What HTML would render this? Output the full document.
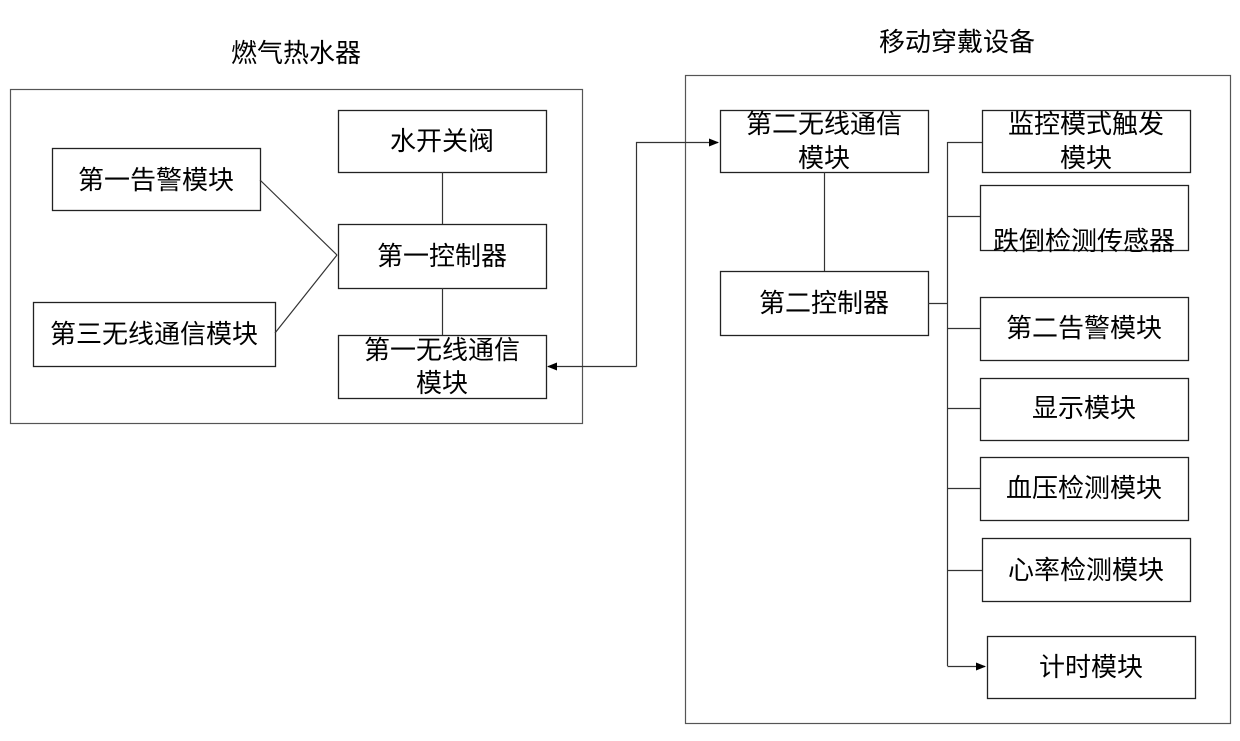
<!DOCTYPE html>
<html><head><meta charset="utf-8"><style>
html,body{margin:0;padding:0;background:#fff}
svg text{font-family:"Liberation Sans","Noto Sans CJK SC","WenQuanYi Zen Hei",sans-serif;font-size:26px;fill:#000;text-anchor:middle;dominant-baseline:central}
</style></head><body>
<svg width="1240" height="736" viewBox="0 0 1240 736" xmlns="http://www.w3.org/2000/svg">
<defs><marker id="a" markerWidth="10" markerHeight="8" refX="9" refY="4" orient="auto" markerUnits="userSpaceOnUse"><path d="M0,0 L10,4 L0,8 Z" fill="#000"/></marker></defs>
<g fill="none" stroke="#555" stroke-width="1.2">
<rect x="10.5" y="89.5" width="572" height="334"/>
<rect x="685.5" y="75.5" width="545" height="648"/>
</g>
<g fill="#fff" stroke="#222" stroke-width="1.3">
<rect x="338.5" y="110.5" width="208" height="62"/>
<rect x="52.5" y="148.5" width="208" height="62"/>
<rect x="338.5" y="224.5" width="208" height="64"/>
<rect x="33.5" y="302.5" width="242" height="64"/>
<rect x="338.5" y="335.5" width="208" height="63"/>
<rect x="720.5" y="110.5" width="208" height="62"/>
<rect x="720.5" y="271.5" width="208" height="64"/>
<rect x="982.5" y="110.5" width="208" height="62"/>
<rect x="980.5" y="185.5" width="208" height="65"/>
<rect x="980.5" y="297.5" width="208" height="63"/>
<rect x="980.5" y="378.5" width="208" height="62"/>
<rect x="980.5" y="457.5" width="208" height="63"/>
<rect x="982.5" y="538.5" width="208" height="63"/>
<rect x="987.5" y="636.5" width="208" height="62"/>
</g>
<g fill="none" stroke="#333" stroke-width="1.2">
<line x1="260" y1="180" x2="337" y2="255"/>
<line x1="275" y1="333" x2="337" y2="255"/>
<line x1="442.5" y1="172" x2="442.5" y2="224"/>
<line x1="442.5" y1="288" x2="442.5" y2="335"/>
<polyline points="636.5,366.5 636.5,142.5 718,142.5" marker-end="url(#a)"/>
<line x1="636.5" y1="366.5" x2="548" y2="366.5" marker-end="url(#a)"/>
<line x1="824.5" y1="172" x2="824.5" y2="271"/>
<line x1="947.5" y1="142" x2="947.5" y2="666"/>
<line x1="928" y1="303.5" x2="947.5" y2="303.5"/>
<line x1="947.5" y1="142.5" x2="982" y2="142.5"/>
<line x1="947.5" y1="216.5" x2="980" y2="216.5"/>
<line x1="947.5" y1="328.5" x2="980" y2="328.5"/>
<line x1="947.5" y1="408.5" x2="980" y2="408.5"/>
<line x1="947.5" y1="488.5" x2="980" y2="488.5"/>
<line x1="947.5" y1="570.5" x2="982" y2="570.5"/>
<line x1="947.5" y1="666.5" x2="985" y2="666.5" marker-end="url(#a)"/>
</g>
<text x="296" y="53">燃气热水器</text>
<text x="957" y="42">移动穿戴设备</text>
<text x="442" y="141">水开关阀</text>
<text x="156" y="180">第一告警模块</text>
<text x="442" y="256">第一控制器</text>
<text x="154" y="334">第三无线通信模块</text>
<text x="442" y="350">第一无线通信</text>
<text x="442" y="383">模块</text>
<text x="824" y="124">第二无线通信</text>
<text x="824" y="158">模块</text>
<text x="824" y="303">第二控制器</text>
<text x="1086" y="124">监控模式触发</text>
<text x="1086" y="158">模块</text>
<text x="1084" y="241">跌倒检测传感器</text>
<text x="1084" y="328">第二告警模块</text>
<text x="1084" y="408">显示模块</text>
<text x="1084" y="488">血压检测模块</text>
<text x="1086" y="570">心率检测模块</text>
<text x="1091" y="667">计时模块</text>
</svg>
</body></html>
